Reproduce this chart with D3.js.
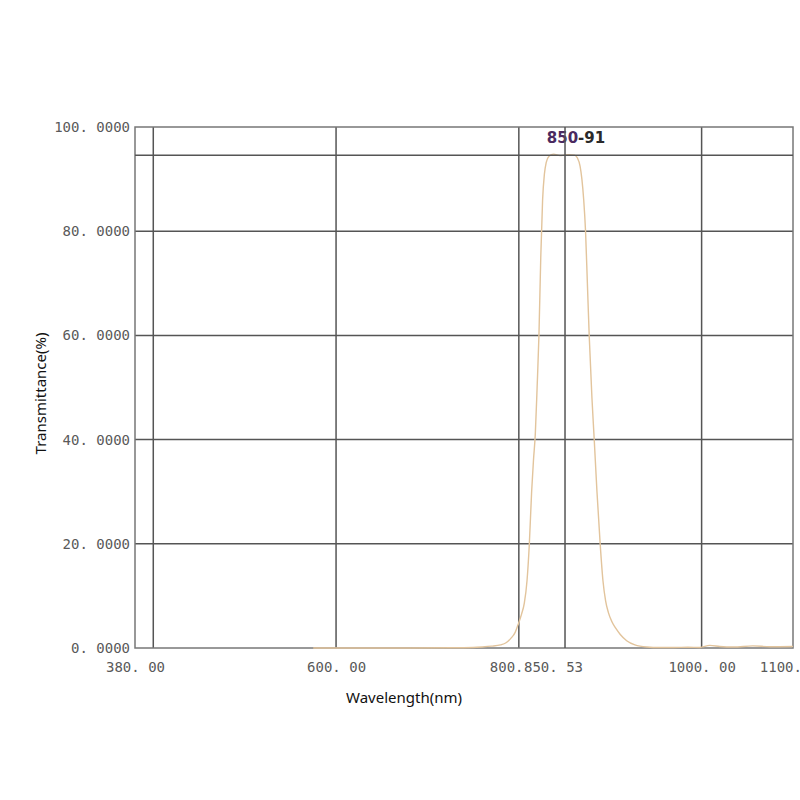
<!DOCTYPE html>
<html>
<head>
<meta charset="utf-8">
<script src="https://cdn.jsdelivr.net/npm/d3@7"></script>
<style>
  body { margin: 0; background: #fff; }
  .tick text { font-family: "DejaVu Sans Mono", monospace; font-size: 14px; fill: #5a5a5a; }
  .title { font-family: "Noto Sans", sans-serif; font-size: 15px; fill: #111; }
</style>
</head>
<body>
<div id="chart"></div>
<script>
// spectrum: wavelength (nm) and transmittance (%)
const wavelength = [575, 620, 680, 730, 750, 760, 770, 780, 786, 791, 796, 799, 803, 806, 809, 811.5, 814, 816, 818, 820, 822, 824, 826, 828, 830, 833, 838, 845, 850, 855, 861, 864, 867, 869, 871, 873, 875, 877, 880, 882.5, 885.5, 889, 892, 895, 898, 902, 906, 911, 918, 927, 940, 954, 970, 985, 998, 1009, 1020, 1035, 1056, 1075, 1100];
const transmittance = [0, 0, 0, 0.05, 0.1, 0.2, 0.35, 0.6, 1.0, 1.8, 3.0, 4.4, 6.5, 8.6, 13, 20, 30, 36, 41, 50, 60, 75, 86, 91, 93.2, 94.4, 94.8, 94.5, 94.6, 94.7, 94.6, 94.1, 92.5, 90, 86, 80, 70, 60, 48, 40, 30, 20, 13, 9, 6.8, 5, 3.8, 2.6, 1.4, 0.6, 0.2, 0.1, 0.1, 0.15, 0.1, 0.5, 0.3, 0.2, 0.4, 0.25, 0.3];

const xGrid = [400, 600, 800, 1000];
const yGrid = [20, 40, 60, 80];
const xTicks = [380, 600, 800, 850.53, 1000, 1100];
const xTickLabels = ["380. 00", "600. 00", "800. 00", "850. 53", "1000. 00", "1100. 00"];
const yTicks = [0, 20, 40, 60, 80, 100];
const peakWave = 850.53;
const peakValue = 94.6;
const peakLabel = ["850", "-91"];

const W = 800, H = 800;
const m = {t: 127, l: 135, b: 152, r: 7};

const x = d3.scaleLinear().domain([380, 1100]).range([m.l, W - m.r]);
const y = d3.scaleLinear().domain([0, 100]).range([H - m.b, m.t]);

const svg = d3.select("#chart").append("svg")
	.attr("width", W)
	.attr("height", H);

// grid
svg.append("g").selectAll("line")
	.data(xGrid)
	.join("line")
	.attr("x1", d => x(d)).attr("x2", d => x(d))
	.attr("y1", y(0)).attr("y2", y(100))
	.attr("stroke", "#555").attr("stroke-width", 1.5);

svg.append("g").selectAll("line")
	.data(yGrid)
	.join("line")
	.attr("x1", x(380)).attr("x2", x(1100))
	.attr("y1", d => y(d)).attr("y2", d => y(d))
	.attr("stroke", "#555").attr("stroke-width", 1.5);

// frame
svg.append("rect")
	.attr("x", x(380)).attr("y", y(100))
	.attr("width", x(1100) - x(380)).attr("height", y(0) - y(100))
	.attr("fill", "none").attr("stroke", "#777").attr("stroke-width", 1.5);

// peak label
const lab = svg.append("text")
	.attr("x", x(peakWave) + 11).attr("y", y(100) + 16)
	.attr("text-anchor", "middle")
	.style("font-family", "DejaVu Sans, sans-serif")
	.style("font-size", "15px")
	.style("font-weight", "bold");
lab.append("tspan").attr("fill", "#4a2a60").text(peakLabel[0]);
lab.append("tspan").attr("fill", "#2a2a2a").text(peakLabel[1]);

// curve
const line = d3.line()
	.x((d, i) => x(wavelength[i]))
	.y(d => y(d))
	.curve(d3.curveMonotoneX);

svg.append("path")
	.datum(transmittance)
	.attr("d", line)
	.attr("fill", "none")
	.attr("stroke", "#e2c49c")
	.attr("stroke-width", 1.4);

// peak markers
svg.append("line")
	.attr("x1", x(380)).attr("x2", x(1100))
	.attr("y1", y(peakValue)).attr("y2", y(peakValue))
	.attr("stroke", "#555").attr("stroke-width", 1.5);
svg.append("line")
	.attr("x1", x(peakWave)).attr("x2", x(peakWave))
	.attr("y1", y(0)).attr("y2", y(100))
	.attr("stroke", "#555").attr("stroke-width", 1.5);

// axes (labels only)
const axisY = d3.axisLeft(y)
	.tickValues(yTicks)
	.tickSize(0)
	.tickPadding(5)
	.tickFormat(d => d3.format(".4f")(d).replace(".", ". "));
svg.append("g")
	.attr("transform", `translate(${m.l},0)`)
	.call(axisY)
	.call(g => g.select(".domain").remove());

const axisX = d3.axisBottom(x)
	.tickValues(xTicks)
	.tickSize(0)
	.tickPadding(14)
	.tickFormat((d, i) => xTickLabels[i]);
const gx = svg.append("g")
	.attr("transform", `translate(0,${H - m.b})`)
	.call(axisX)
	.call(g => g.select(".domain").remove());

gx.selectAll(".tick")
	.filter(d => d === peakWave)
	.each(function(){
		const t = d3.select(this).select("text").attr("x", -12);
		const b = t.node().getBBox();
		d3.select(this).insert("rect", "text")
			.attr("x", b.x - 1).attr("y", b.y)
			.attr("width", b.width + 2).attr("height", b.height)
			.attr("fill", "#fff");
	});

// titles
svg.append("text")
	.attr("class", "title")
	.attr("text-anchor", "middle")
	.attr("transform", `translate(46,${(y(0) + y(100)) / 2 + 6}) rotate(-90)`)
	.text("Transmittance(%)");

svg.append("text")
	.attr("class", "title")
	.attr("text-anchor", "middle")
	.attr("x", 404).attr("y", 703)
	.text("Wavelength(nm)");
</script>
</body>
</html>
